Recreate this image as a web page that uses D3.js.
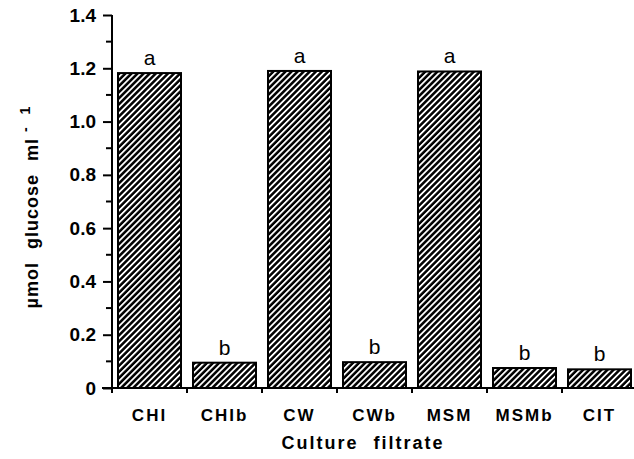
<!DOCTYPE html>
<html>
<head>
<meta charset="utf-8">
<script src="https://cdn.jsdelivr.net/npm/d3@7"></script>
<style>
  body { margin: 0; background: #fff; }
  svg { display: block; font-family: "Liberation Sans", Arial, sans-serif; }
</style>
</head>
<body>
<div id="chart"></div>
<script>
const categories = ['CHI', 'CHIb', 'CW', 'CWb', 'MSM', 'MSMb', 'CIT'];
const values = [1.182, 0.095, 1.19, 0.097, 1.188, 0.075, 0.07];
const letters = ['a', 'b', 'a', 'b', 'a', 'b', 'b'];
const yTicks = [0, 0.2, 0.4, 0.6, 0.8, 1.0, 1.2, 1.4];
const yMinorTicks = [0.1, 0.3, 0.5, 0.7, 0.9, 1.1, 1.3];

const config = {
    width: 634,
    height: 459,
    marginTop: 15,
    marginRight: -3,
    marginBottom: 71,
    marginLeft: 112
};

const svg = d3.select('#chart')
    .append('svg')
    .attr('width', config.width)
    .attr('height', config.height);

const defs = svg.append('defs');
defs.append('pattern')
    .attr('id', 'hatch')
    .attr('patternUnits', 'userSpaceOnUse')
    .attr('width', 4.3)
    .attr('height', 4.3)
    .attr('patternTransform', 'rotate(45)')
    .call(p => p.append('rect')
        .attr('width', 4.3)
        .attr('height', 4.3)
        .attr('fill', '#000'))
    .call(p => p.append('rect')
        .attr('x', 0)
        .attr('width', 1.8)
        .attr('height', 4.3)
        .attr('fill', '#fff'));

const xScale = d3.scaleBand()
    .domain(categories)
    .range([config.marginLeft, config.width - config.marginRight])
    .paddingInner(0.16)
    .paddingOuter(0.08);

const yScale = d3.scaleLinear()
    .domain([0, 1.4])
    .range([config.height - config.marginBottom, config.marginTop]);

const y0 = yScale(0);

// bars
svg.append('g')
    .selectAll('rect')
    .data(values)
    .join('rect')
    .attr('x', (d, i) => xScale(categories[i]))
    .attr('y', d => yScale(d))
    .attr('width', xScale.bandwidth())
    .attr('height', d => y0 - yScale(d))
    .attr('fill', 'url(#hatch)')
    .attr('stroke', '#000')
    .attr('stroke-width', 2);

// significance letters
svg.append('g')
    .selectAll('text')
    .data(values)
    .join('text')
    .attr('x', (d, i) => xScale(categories[i]) + xScale.bandwidth() / 2)
    .attr('y', d => yScale(d) - 8)
    .attr('text-anchor', 'middle')
    .attr('font-size', '21px')
    .attr('fill', '#000')
    .text((d, i) => letters[i]);

// y axis
const yAxis = svg.append('g')
    .attr('transform', `translate(${config.marginLeft},0)`)
    .call(d3.axisLeft(yScale)
        .tickValues(yTicks)
        .tickSize(9)
        .tickPadding(7)
        .tickFormat(d => d === 0 ? '0' : d.toFixed(1)));
yAxis.select('.domain').remove();
yAxis.selectAll('line').attr('stroke', '#000').attr('stroke-width', 2);
yAxis.selectAll('text')
    .attr('font-size', '19px')
    .attr('font-weight', 'bold')
    .attr('font-family', '"Liberation Sans", Arial, sans-serif')
    .attr('fill', '#000');

svg.append('g')
    .selectAll('line')
    .data(yMinorTicks)
    .join('line')
    .attr('x1', config.marginLeft - 6)
    .attr('x2', config.marginLeft)
    .attr('y1', d => yScale(d))
    .attr('y2', d => yScale(d))
    .attr('stroke', '#000')
    .attr('stroke-width', 2);

svg.append('line')
    .attr('x1', config.marginLeft)
    .attr('x2', config.marginLeft)
    .attr('y1', yScale(1.4))
    .attr('y2', y0 + 5)
    .attr('stroke', '#000')
    .attr('stroke-width', 2);

// x axis
svg.append('line')
    .attr('x1', config.marginLeft - 10)
    .attr('x2', config.width)
    .attr('y1', y0)
    .attr('y2', y0)
    .attr('stroke', '#000')
    .attr('stroke-width', 2);

const step = xScale.step();
svg.append('g')
    .selectAll('line')
    .data(categories.slice(1))
    .join('line')
    .attr('x1', d => xScale(d) - step * xScale.paddingInner() / 2)
    .attr('x2', d => xScale(d) - step * xScale.paddingInner() / 2)
    .attr('y1', y0)
    .attr('y2', y0 + 5)
    .attr('stroke', '#000')
    .attr('stroke-width', 2);

svg.append('g')
    .selectAll('text')
    .data(categories)
    .join('text')
    .attr('x', d => xScale(d) + xScale.bandwidth() / 2)
    .attr('y', y0 + 33)
    .attr('text-anchor', 'middle')
    .attr('font-size', '17px')
    .attr('font-weight', 'bold')
    .attr('letter-spacing', '2px')
    .attr('fill', '#000')
    .text(d => d);

// axis titles
svg.append('text')
    .attr('x', 363)
    .attr('y', 449)
    .attr('text-anchor', 'middle')
    .attr('font-size', '18px')
    .attr('font-weight', 'bold')
    .attr('letter-spacing', '2px')
    .attr('word-spacing', '8px')
    .attr('fill', '#000')
    .text('Culture filtrate');

svg.append('text')
    .attr('transform', 'translate(38,207) rotate(-90)')
    .attr('text-anchor', 'middle')
    .attr('font-size', '18px')
    .attr('font-weight', 'bold')
    .attr('letter-spacing', '1px')
    .attr('word-spacing', '7px')
    .attr('fill', '#000')
    .text('µmol glucose ml')
    .append('tspan')
    .attr('dx', 6)
    .attr('dy', -8)
    .attr('font-size', '14px')
    .text('- 1');
</script>
</body>
</html>
